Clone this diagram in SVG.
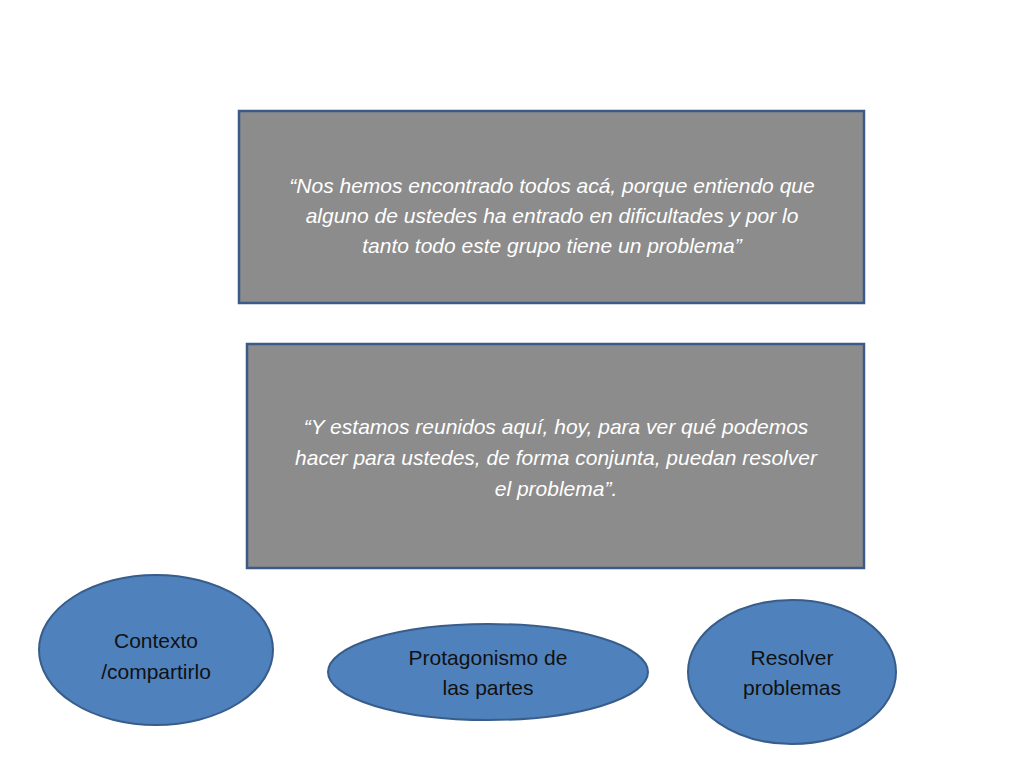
<svg xmlns="http://www.w3.org/2000/svg" width="1024" height="768" viewBox="0 0 1024 768">
<style>
.box{fill:#8c8c8c;stroke:#3b5a87;stroke-width:2.5}
.ell{fill:#4f81bd;stroke:#385d8a;stroke-width:2}
.q{font-family:"Liberation Sans",Arial,sans-serif;font-style:italic;font-size:21px;fill:#fff;text-anchor:middle}
.e{font-family:"Liberation Sans",Arial,sans-serif;font-size:21px;fill:#111;text-anchor:middle}
</style>
<rect width="1024" height="768" fill="#fff"/>
<g id="box1"><rect class="box" x="239" y="111" width="625" height="192"/>
<text class="q" x="552" y="193">“Nos hemos encontrado todos acá, porque entiendo que</text>
<text class="q" x="552" y="223">alguno de ustedes ha entrado en dificultades  y por lo</text>
<text class="q" x="552" y="253">tanto todo este grupo tiene un problema”</text></g>
<g id="box2"><rect class="box" x="247" y="344" width="617" height="224"/>
<text class="q" x="556" y="434">“Y estamos reunidos aquí, hoy, para ver  qué podemos</text>
<text class="q" x="556" y="465">hacer para ustedes, de forma conjunta, puedan resolver</text>
<text class="q" x="556" y="496">el problema”.</text></g>
<g id="n1"><ellipse class="ell" cx="156" cy="650" rx="117" ry="75"/>
<text class="e" x="156" y="648">Contexto</text><text class="e" x="156" y="679">/compartirlo</text></g>
<g id="n2"><ellipse class="ell" cx="488" cy="672" rx="160" ry="48"/>
<text class="e" x="488" y="665">Protagonismo de</text><text class="e" x="488" y="695">las partes</text></g>
<g id="n3"><ellipse class="ell" cx="792" cy="672" rx="104" ry="72"/>
<text class="e" x="792" y="665">Resolver</text><text class="e" x="792" y="695">problemas</text></g>
<g id="connectors"/>
</svg>
